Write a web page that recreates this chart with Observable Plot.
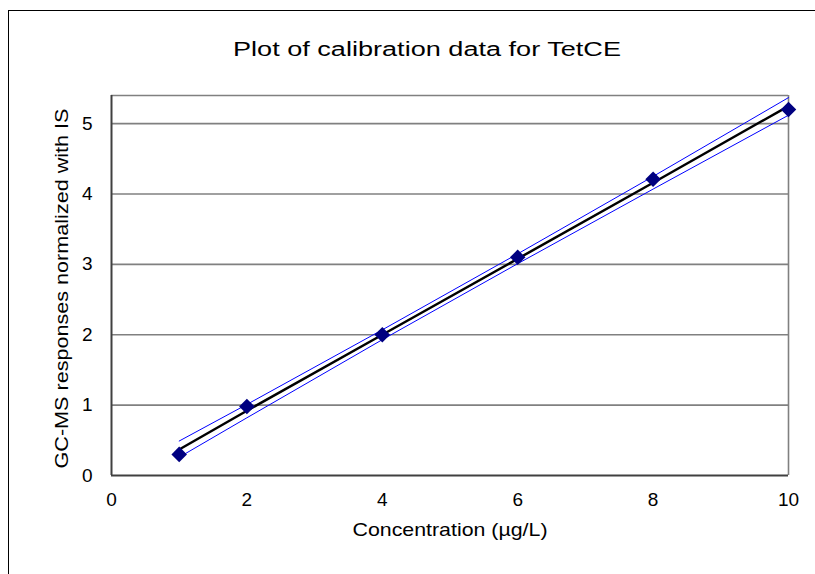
<!DOCTYPE html>
<html>
<head>
<meta charset="utf-8">
<script src="https://cdn.jsdelivr.net/npm/d3@7"></script>
<script src="https://cdn.jsdelivr.net/npm/@observablehq/plot@0.6"></script>
<style>
  html, body { margin: 0; padding: 0; background: #fff; }
  #wrap { position: relative; width: 815px; height: 574px; overflow: hidden; }
  #frame { position: absolute; left: 8px; top: 10px; width: 900px; height: 700px;
           border-top: 1px solid #000; border-left: 1px solid #000; pointer-events: none; }
</style>
</head>
<body>
<div id="wrap"><div id="frame"></div></div>
<script>
// Data
const conc = [1, 2, 4, 6, 8, 10];
const response = [0.30, 0.98, 2.00, 3.10, 4.21, 5.20];
const fitted = [0.37, 0.92, 2.00, 3.08, 4.16, 5.25];
const upperBand = [0.49, 1.01, 2.07, 3.15, 4.25, 5.37];
const lowerBand = [0.26, 0.82, 1.93, 3.01, 4.07, 5.12];
const xTicks = [0, 2, 4, 6, 8, 10];
const yTicks = [0, 1, 2, 3, 4, 5];
const titleText = "Plot of calibration data for TetCE";
const xLabel = "Concentration (µg/L)";
const yLabel = "GC-MS responses normalized with IS";

const pts = conc.map((x, i) => ({x, y: response[i]}));
const fitPts = conc.map((x, i) => ({x, y: fitted[i]}));
const upPts = conc.map((x, i) => ({x, y: upperBand[i]}));
const loPts = conc.map((x, i) => ({x, y: lowerBand[i]}));

const chart = Plot.plot({
  width: 815,
  height: 574,
  marginLeft: 111,
  marginRight: 27,
  marginTop: 95,
  marginBottom: 99,
  style: {fontFamily: "'Liberation Sans', Arial, sans-serif", fontSize: "18px", color: "#000", background: "transparent"},
  x: {domain: [0, 10], axis: null},
  y: {domain: [0, 5.4], axis: null},
  marks: [
    Plot.ruleY(yTicks.filter(d => d > 0), {stroke: "#808080", strokeWidth: 1.6}),
    Plot.ruleY([5.4], {stroke: "#808080", strokeWidth: 1.6}),
    Plot.ruleX([10], {stroke: "#808080", strokeWidth: 1.6}),
    Plot.ruleX([0], {stroke: "#404040", strokeWidth: 2}),
    Plot.ruleY([0], {stroke: "#404040", strokeWidth: 2}),
    Plot.line(upPts, {x: "x", y: "y", stroke: "#0000ff", strokeWidth: 1}),
    Plot.line(loPts, {x: "x", y: "y", stroke: "#0000ff", strokeWidth: 1}),
    Plot.line(fitPts, {x: "x", y: "y", stroke: "#000", strokeWidth: 2.5}),
    Plot.dot(pts, {x: "x", y: "y", symbol: "diamond2", r: 7, fill: "#000080", stroke: "none"}),
    // tick labels
    Plot.text(xTicks, {x: d => d, frameAnchor: "bottom", lineAnchor: "top", textAnchor: "middle", dy: 17, fontSize: 19, text: d => String(d), fill: "#000"}),
    Plot.text(yTicks, {y: d => d, frameAnchor: "left", lineAnchor: "middle", textAnchor: "end", dx: -19, fontSize: 19, text: d => String(d), fill: "#000"}),
    // titles
    Plot.text([titleText], {frameAnchor: "top", textAnchor: "middle", lineAnchor: "bottom", dx: -23, dy: -40, fontSize: 20, text: d => d}),
    Plot.text([xLabel], {frameAnchor: "bottom", textAnchor: "middle", lineAnchor: "bottom", dx: 0, dy: 60, fontSize: 19, text: d => d}),
    Plot.text([yLabel], {frameAnchor: "left", textAnchor: "middle", lineAnchor: "bottom", rotate: -90, dx: -44, dy: 3, fontSize: 19, text: d => d})
  ]
});

d3.select("#wrap").insert(() => chart, "#frame");
const lengths = {[titleText]: 388, [xLabel]: 195, [yLabel]: 360};
d3.select(chart).selectAll("text").each(function() {
  const t = this.textContent;
  if (lengths[t]) {
    d3.select(this).attr("textLength", lengths[t]).attr("lengthAdjust", "spacingAndGlyphs");
  }
});
</script>
</body>
</html>
